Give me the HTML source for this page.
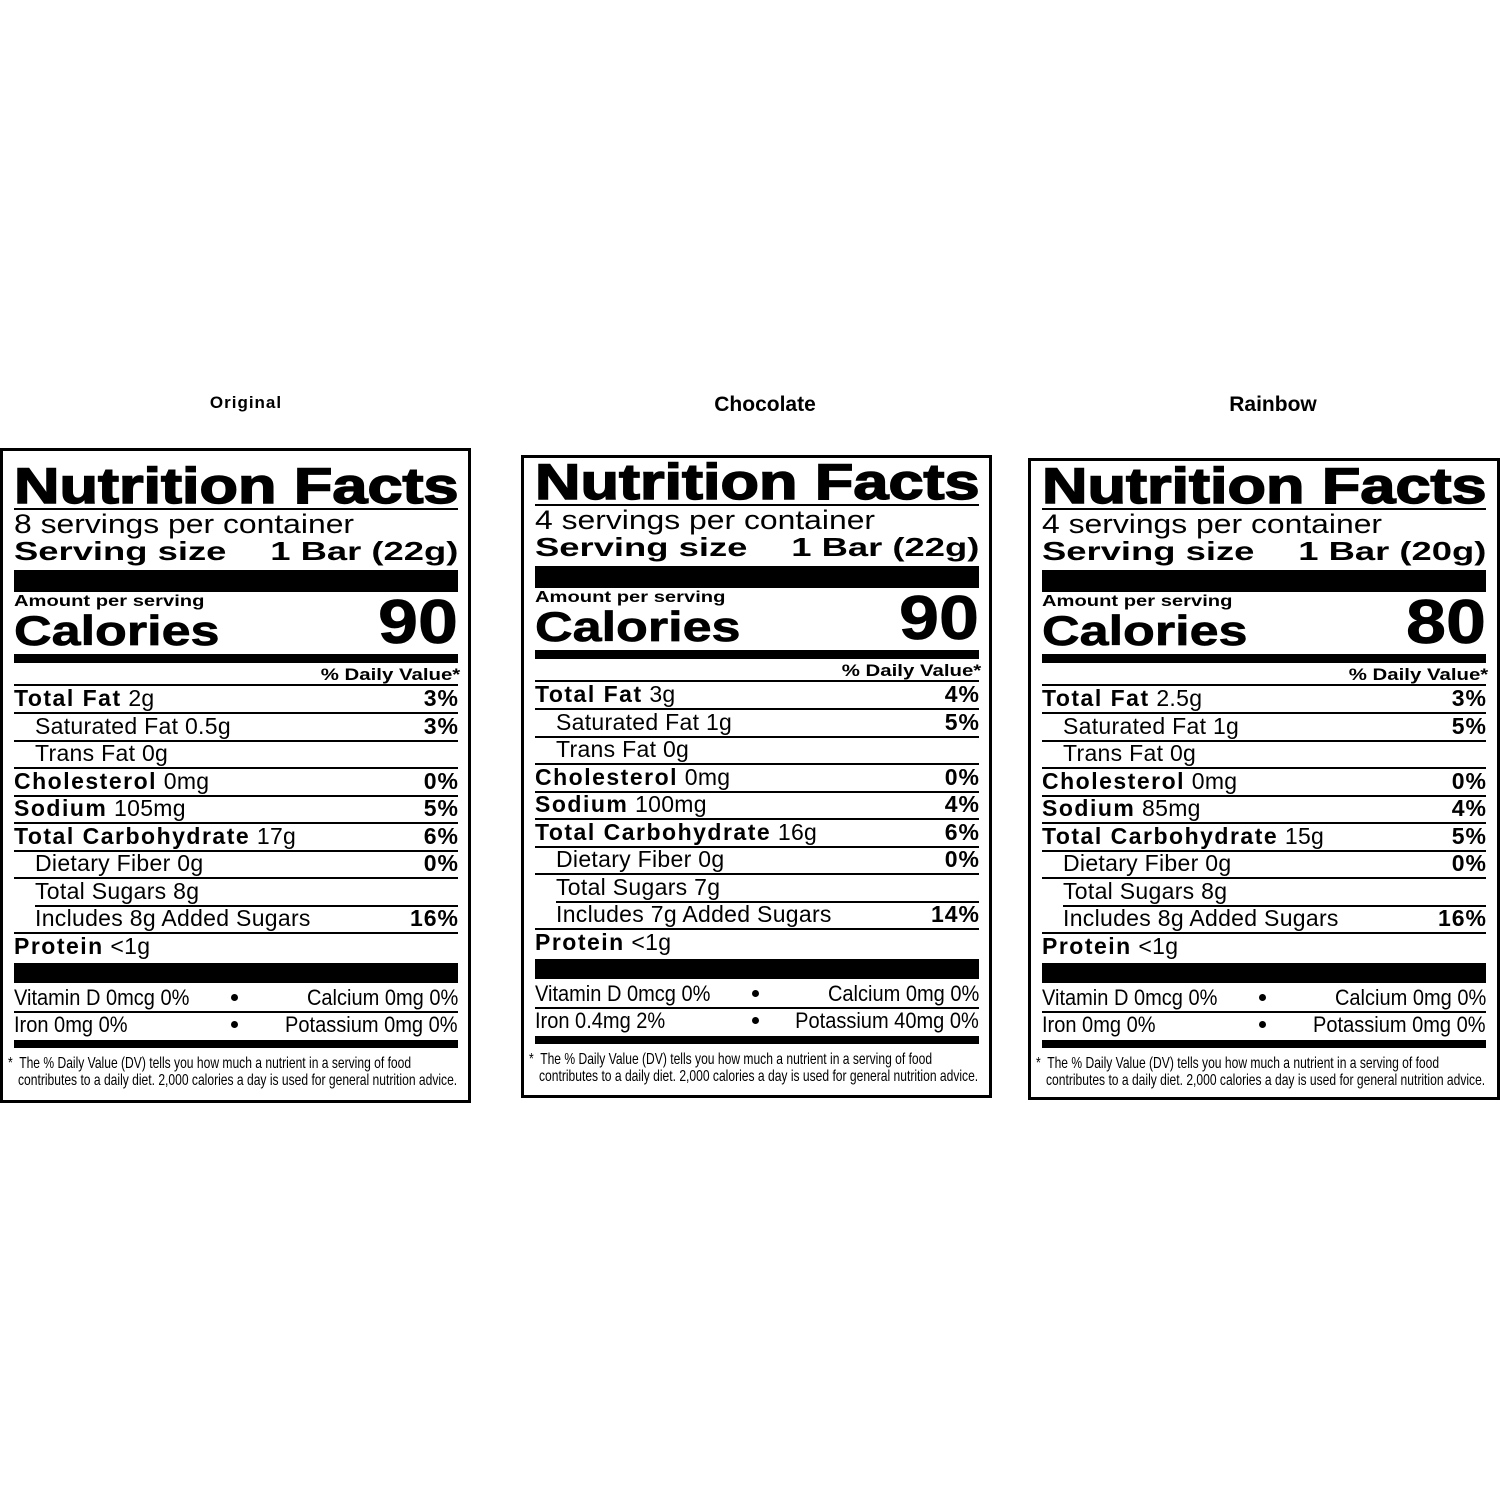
<!DOCTYPE html>
<html><head><meta charset="utf-8">
<style>
html,body{margin:0;padding:0;background:#fff;}
body{width:1500px;height:1500px;position:relative;overflow:hidden;font-family:"Liberation Sans",Arial,sans-serif;color:#000;}
.p{position:absolute;top:0;width:471px;height:1500px;}
.box{position:absolute;border:3px solid #000;box-sizing:border-box;}
.h{position:absolute;left:14px;width:444px;background:#000;}
.t{position:absolute;white-space:nowrap;line-height:1;}
.L{transform-origin:0 50%;}
.R{transform-origin:100% 50%;}
.tt{font-weight:bold;font-size:50px;top:461px;left:14px;transform:scaleX(1.26);-webkit-text-stroke:1.5px #000;}
.sv{font-size:27px;top:511px;left:14px;transform:scaleX(1.18);}
.ss{font-weight:bold;font-size:26px;top:538px;transform:scaleX(1.4);}
.am{font-weight:bold;font-size:16px;top:594px;left:14px;transform:scaleX(1.26);}
.cal{font-weight:bold;font-size:42px;top:610px;left:14px;transform:scaleX(1.24);-webkit-text-stroke:0.7px #000;}
.num{font-weight:bold;font-size:62px;top:592px;right:13px;transform:scaleX(1.16);-webkit-text-stroke:0.7px #000;}
.dv{font-weight:bold;font-size:17px;top:666px;right:11px;transform:scaleX(1.2);}
.row{font-size:23px;letter-spacing:0.3px;}
.row b{font-size:23px;letter-spacing:1.5px;}
.pc{font-weight:bold;font-size:23px;letter-spacing:1px;right:12px;}
.vt{font-size:22px;transform:scaleX(0.91);}
.bu{position:absolute;left:231px;width:7px;height:7px;border-radius:50%;background:#000;}
.fn{font-size:16px;transform:scaleX(0.755);}
.hd{position:absolute;font-weight:bold;white-space:nowrap;line-height:1;transform:translateX(-50%);}
</style></head><body>

<div class="hd" style="left:246px;top:394px;font-size:17px;letter-spacing:1px;">Original</div>
<div class="hd" style="left:765px;top:394px;font-size:21px;">Chocolate</div>
<div class="hd" style="left:1273px;top:394px;font-size:21px;">Rainbow</div>

<div class="box" style="left:0;top:448px;width:471px;height:655px;"></div>
<div class="box" style="left:521px;top:455px;width:471px;height:643px;"></div>
<div class="box" style="left:1028px;top:458px;width:472px;height:642px;"></div>

<!-- PANEL 1 -->
<div class="p" style="left:0;top:0;">
<div class="t L tt">Nutrition Facts</div>
<div class="h" style="top:508px;height:1.5px"></div>
<div class="t L sv">8 servings per container</div>
<div class="t L ss" style="left:14px">Serving size</div>
<div class="t R ss" style="right:13px">1 Bar (22g)</div>
<div class="h" style="top:570px;height:22px"></div>
<div class="t L am">Amount per serving</div>
<div class="t L cal">Calories</div>
<div class="t R num">90</div>
<div class="h" style="top:654px;height:9px"></div>
<div class="t R dv">% Daily Value*</div>
<div class="h" style="top:684px;height:2px"></div>
<div class="t row" style="left:14px;top:687px"><b>Total Fat</b> 2g</div><div class="t pc" style="top:687px">3%</div>
<div class="h" style="top:712px;height:1.5px"></div>
<div class="t row" style="left:35px;top:715px">Saturated Fat 0.5g</div><div class="t pc" style="top:715px">3%</div>
<div class="h" style="top:740px;height:1.5px"></div>
<div class="t row" style="left:35px;top:742px">Trans Fat 0g</div>
<div class="h" style="top:767px;height:1.5px"></div>
<div class="t row" style="left:14px;top:770px"><b>Cholesterol</b> 0mg</div><div class="t pc" style="top:770px">0%</div>
<div class="h" style="top:795px;height:1.5px"></div>
<div class="t row" style="left:14px;top:797px"><b>Sodium</b> 105mg</div><div class="t pc" style="top:797px">5%</div>
<div class="h" style="top:822px;height:1.5px"></div>
<div class="t row" style="left:14px;top:825px"><b>Total Carbohydrate</b> 17g</div><div class="t pc" style="top:825px">6%</div>
<div class="h" style="top:850px;height:1.5px"></div>
<div class="t row" style="left:35px;top:852px">Dietary Fiber 0g</div><div class="t pc" style="top:852px">0%</div>
<div class="h" style="top:877px;height:1.5px"></div>
<div class="t row" style="left:35px;top:880px">Total Sugars 8g</div>
<div class="h" style="top:905px;height:1.5px;left:35px;width:423px"></div>
<div class="t row" style="left:35px;top:907px">Includes 8g Added Sugars</div><div class="t pc" style="top:907px">16%</div>
<div class="h" style="top:932px;height:1.5px"></div>
<div class="t row" style="left:14px;top:935px"><b>Protein</b> &lt;1g</div>
<div class="h" style="top:963px;height:20px"></div>
<div class="t L vt" style="left:14px;top:987px">Vitamin D 0mcg 0%</div>
<div class="bu" style="top:994px"></div>
<div class="t R vt" style="right:13px;top:987px">Calcium 0mg 0%</div>
<div class="h" style="top:1011px;height:1.5px"></div>
<div class="t L vt" style="left:14px;top:1014px">Iron 0mg 0%</div>
<div class="bu" style="top:1021px"></div>
<div class="t R vt" style="right:13px;top:1014px">Potassium 0mg 0%</div>
<div class="h" style="top:1040px;height:8px"></div>
<div class="t L fn" style="left:8px;top:1056px">*&nbsp; The % Daily Value (DV) tells you how much a nutrient in a serving of food</div>
<div class="t L fn" style="left:18px;top:1073px">contributes to a daily diet. 2,000 calories a day is used for general nutrition advice.</div>
</div>

<!-- PANEL 2 -->
<div class="p" style="left:521px;top:-4px;">
<div class="t L tt">Nutrition Facts</div>
<div class="h" style="top:508px;height:1.5px"></div>
<div class="t L sv">4 servings per container</div>
<div class="t L ss" style="left:14px">Serving size</div>
<div class="t R ss" style="right:13px">1 Bar (22g)</div>
<div class="h" style="top:570px;height:22px"></div>
<div class="t L am">Amount per serving</div>
<div class="t L cal">Calories</div>
<div class="t R num">90</div>
<div class="h" style="top:654px;height:9px"></div>
<div class="t R dv">% Daily Value*</div>
<div class="h" style="top:684px;height:2px"></div>
<div class="t row" style="left:14px;top:687px"><b>Total Fat</b> 3g</div><div class="t pc" style="top:687px">4%</div>
<div class="h" style="top:712px;height:1.5px"></div>
<div class="t row" style="left:35px;top:715px">Saturated Fat 1g</div><div class="t pc" style="top:715px">5%</div>
<div class="h" style="top:740px;height:1.5px"></div>
<div class="t row" style="left:35px;top:742px">Trans Fat 0g</div>
<div class="h" style="top:767px;height:1.5px"></div>
<div class="t row" style="left:14px;top:770px"><b>Cholesterol</b> 0mg</div><div class="t pc" style="top:770px">0%</div>
<div class="h" style="top:795px;height:1.5px"></div>
<div class="t row" style="left:14px;top:797px"><b>Sodium</b> 100mg</div><div class="t pc" style="top:797px">4%</div>
<div class="h" style="top:822px;height:1.5px"></div>
<div class="t row" style="left:14px;top:825px"><b>Total Carbohydrate</b> 16g</div><div class="t pc" style="top:825px">6%</div>
<div class="h" style="top:850px;height:1.5px"></div>
<div class="t row" style="left:35px;top:852px">Dietary Fiber 0g</div><div class="t pc" style="top:852px">0%</div>
<div class="h" style="top:877px;height:1.5px"></div>
<div class="t row" style="left:35px;top:880px">Total Sugars 7g</div>
<div class="h" style="top:905px;height:1.5px;left:35px;width:423px"></div>
<div class="t row" style="left:35px;top:907px">Includes 7g Added Sugars</div><div class="t pc" style="top:907px">14%</div>
<div class="h" style="top:932px;height:1.5px"></div>
<div class="t row" style="left:14px;top:935px"><b>Protein</b> &lt;1g</div>
<div class="h" style="top:963px;height:20px"></div>
<div class="t L vt" style="left:14px;top:987px">Vitamin D 0mcg 0%</div>
<div class="bu" style="top:994px"></div>
<div class="t R vt" style="right:13px;top:987px">Calcium 0mg 0%</div>
<div class="h" style="top:1011px;height:1.5px"></div>
<div class="t L vt" style="left:14px;top:1014px">Iron 0.4mg 2%</div>
<div class="bu" style="top:1021px"></div>
<div class="t R vt" style="right:13px;top:1014px">Potassium 40mg 0%</div>
<div class="h" style="top:1040px;height:8px"></div>
<div class="t L fn" style="left:8px;top:1056px">*&nbsp; The % Daily Value (DV) tells you how much a nutrient in a serving of food</div>
<div class="t L fn" style="left:18px;top:1073px">contributes to a daily diet. 2,000 calories a day is used for general nutrition advice.</div>
</div>

<!-- PANEL 3 -->
<div class="p" style="left:1028px;top:0;">
<div class="t L tt">Nutrition Facts</div>
<div class="h" style="top:508px;height:1.5px"></div>
<div class="t L sv">4 servings per container</div>
<div class="t L ss" style="left:14px">Serving size</div>
<div class="t R ss" style="right:13px">1 Bar (20g)</div>
<div class="h" style="top:570px;height:22px"></div>
<div class="t L am">Amount per serving</div>
<div class="t L cal">Calories</div>
<div class="t R num">80</div>
<div class="h" style="top:654px;height:9px"></div>
<div class="t R dv">% Daily Value*</div>
<div class="h" style="top:684px;height:2px"></div>
<div class="t row" style="left:14px;top:687px"><b>Total Fat</b> 2.5g</div><div class="t pc" style="top:687px">3%</div>
<div class="h" style="top:712px;height:1.5px"></div>
<div class="t row" style="left:35px;top:715px">Saturated Fat 1g</div><div class="t pc" style="top:715px">5%</div>
<div class="h" style="top:740px;height:1.5px"></div>
<div class="t row" style="left:35px;top:742px">Trans Fat 0g</div>
<div class="h" style="top:767px;height:1.5px"></div>
<div class="t row" style="left:14px;top:770px"><b>Cholesterol</b> 0mg</div><div class="t pc" style="top:770px">0%</div>
<div class="h" style="top:795px;height:1.5px"></div>
<div class="t row" style="left:14px;top:797px"><b>Sodium</b> 85mg</div><div class="t pc" style="top:797px">4%</div>
<div class="h" style="top:822px;height:1.5px"></div>
<div class="t row" style="left:14px;top:825px"><b>Total Carbohydrate</b> 15g</div><div class="t pc" style="top:825px">5%</div>
<div class="h" style="top:850px;height:1.5px"></div>
<div class="t row" style="left:35px;top:852px">Dietary Fiber 0g</div><div class="t pc" style="top:852px">0%</div>
<div class="h" style="top:877px;height:1.5px"></div>
<div class="t row" style="left:35px;top:880px">Total Sugars 8g</div>
<div class="h" style="top:905px;height:1.5px;left:35px;width:423px"></div>
<div class="t row" style="left:35px;top:907px">Includes 8g Added Sugars</div><div class="t pc" style="top:907px">16%</div>
<div class="h" style="top:932px;height:1.5px"></div>
<div class="t row" style="left:14px;top:935px"><b>Protein</b> &lt;1g</div>
<div class="h" style="top:963px;height:20px"></div>
<div class="t L vt" style="left:14px;top:987px">Vitamin D 0mcg 0%</div>
<div class="bu" style="top:994px"></div>
<div class="t R vt" style="right:13px;top:987px">Calcium 0mg 0%</div>
<div class="h" style="top:1011px;height:1.5px"></div>
<div class="t L vt" style="left:14px;top:1014px">Iron 0mg 0%</div>
<div class="bu" style="top:1021px"></div>
<div class="t R vt" style="right:13px;top:1014px">Potassium 0mg 0%</div>
<div class="h" style="top:1040px;height:8px"></div>
<div class="t L fn" style="left:8px;top:1056px">*&nbsp; The % Daily Value (DV) tells you how much a nutrient in a serving of food</div>
<div class="t L fn" style="left:18px;top:1073px">contributes to a daily diet. 2,000 calories a day is used for general nutrition advice.</div>
</div>

</body></html>
